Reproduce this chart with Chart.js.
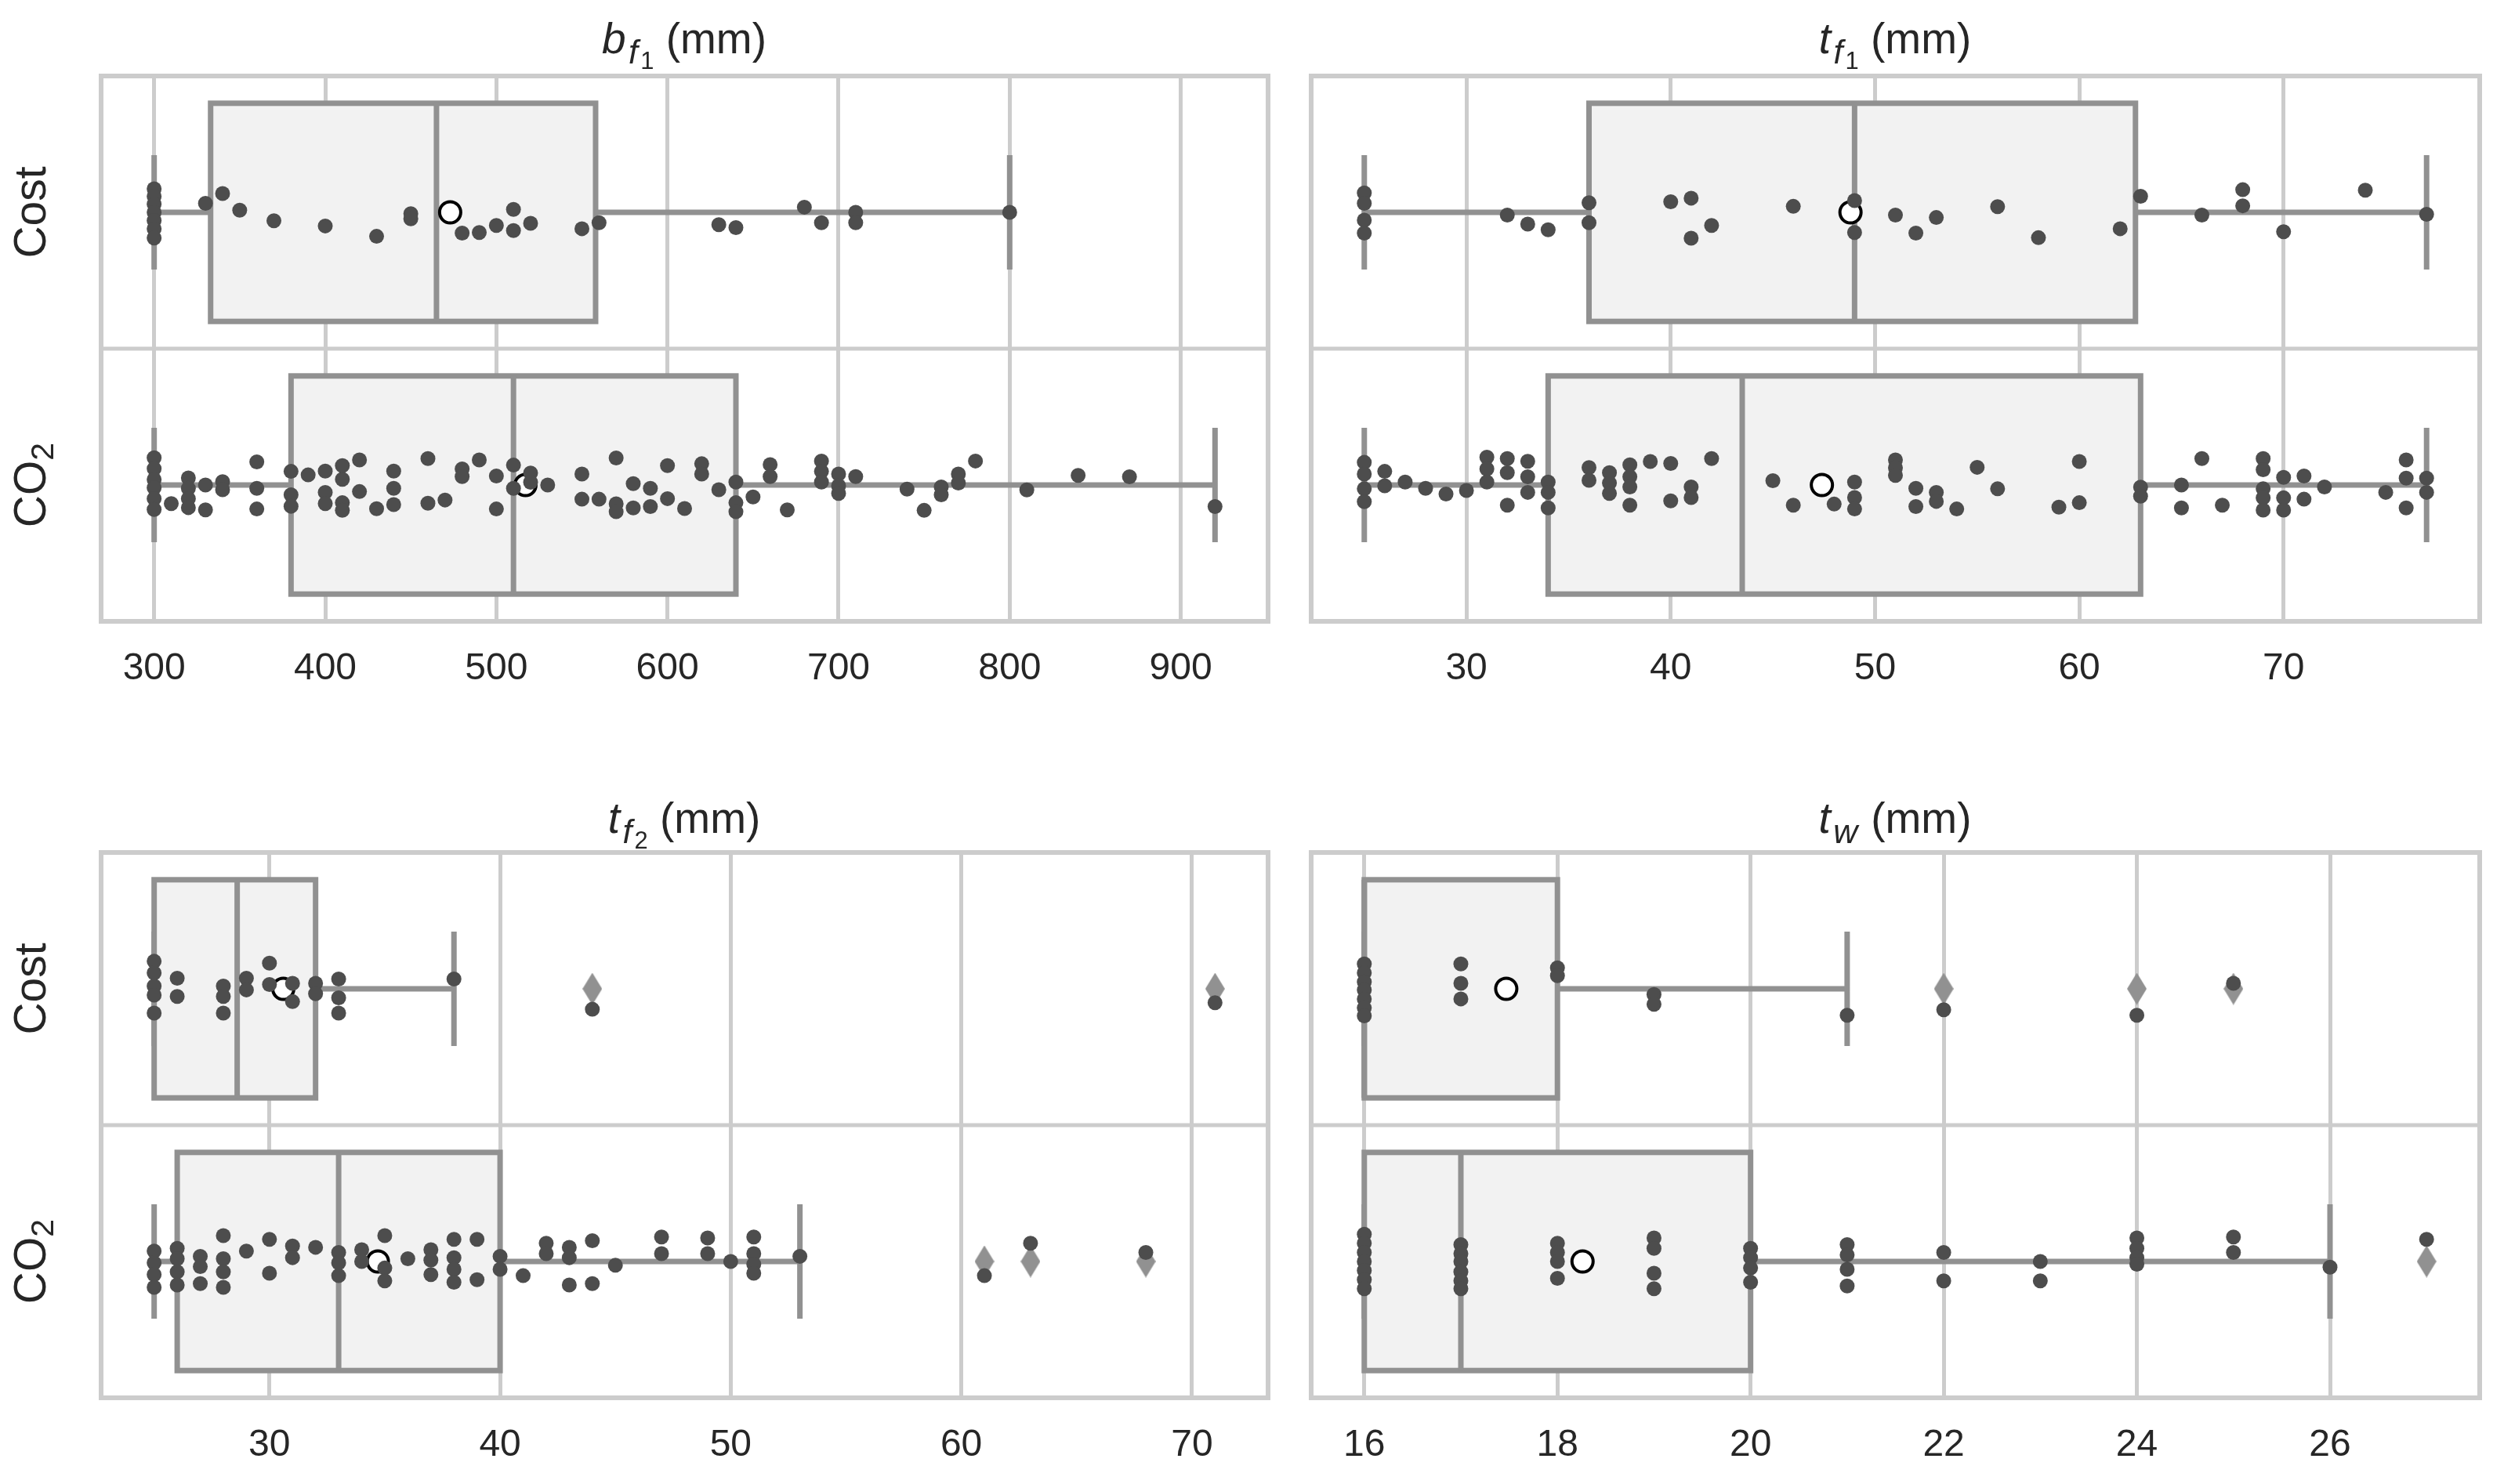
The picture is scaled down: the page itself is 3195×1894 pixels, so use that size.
<!DOCTYPE html>
<html>
<head>
<meta charset="utf-8">
<script src="https://cdn.jsdelivr.net/npm/chart.js@4.4.0/dist/chart.umd.min.js"></script>
<style>
  html, body { margin: 0; padding: 0; background: #ffffff; }
  body { width: 3195px; height: 1894px; position: relative; overflow: hidden;
         font-family: "Liberation Sans", Arial, sans-serif; color: #262626; }
  .panel { position: absolute; }
  .title { position: absolute; width: 600px; height: 60px; line-height: 60px; font-size: 55px;
           text-align: center; white-space: nowrap; }
  .title i { padding-right: 0.04em; }
  .title sub { font-size: 0.78em; vertical-align: -0.3em; line-height: 0; margin-left: 0.03em; }
  .title sub sub { font-size: 0.72em; vertical-align: -0.22em; margin-left: 0.05em; }
  .ylab { position: absolute; width: 240px; height: 60px; line-height: 60px; font-size: 57px;
          text-align: center; white-space: nowrap; transform: rotate(-90deg); }
  .ylab sub { font-size: 0.72em; vertical-align: -0.25em; line-height: 0; }
</style>
</head>
<body>

<div class="panel" id="p0"><canvas id="c0"></canvas></div>
<div class="panel" id="p1"><canvas id="c1"></canvas></div>
<div class="panel" id="p2"><canvas id="c2"></canvas></div>
<div class="panel" id="p3"><canvas id="c3"></canvas></div>

<div class="title" style="left:573px; top:19px;"><i>b</i><sub><i>f</i><sub>1</sub></sub> (mm)</div>
<div class="title" style="left:2118px; top:19px;"><i>t</i><sub><i>f</i><sub>1</sub></sub> (mm)</div>
<div class="title" style="left:573px; top:1014px;"><i>t</i><sub><i>f</i><sub>2</sub></sub> (mm)</div>
<div class="title" style="left:2118px; top:1014px;"><i>t</i><sub><i>w</i></sub> (mm)</div>

<div class="ylab" style="left:-82px; top:241px;">Cost</div>
<div class="ylab" style="left:-82px; top:589px;">CO<sub>2</sub></div>
<div class="ylab" style="left:-82px; top:1232px;">Cost</div>
<div class="ylab" style="left:-82px; top:1580px;">CO<sub>2</sub></div>

<script>
// Categories (row 0 on top)
var categories = ['Cost', 'CO2'];

// ---- b_f1 (mm) ----
var bf1Ticks = [300, 400, 500, 600, 700, 800, 900];
var bf1Limits = [269, 951];
// [whisker low, Q1, median, Q3, whisker high] per category
var bf1Stats = [[300, 333, 465, 558, 800], [300, 380, 510, 640, 920]];
var bf1Means = [473, 517];
var bf1Outliers = [[], []];
var bf1CostValues = [300, 300, 300, 300, 300, 300, 300,
  330, 340, 350, 370, 400, 430, 450, 450, 480, 490, 500, 510, 510, 520, 550, 560,
  630, 640, 680, 690, 710, 710, 800];
var bf1CostJitter = [-0.086, -0.058, -0.03, 0.0, 0.03, 0.06, 0.094,
  -0.033, -0.069, -0.008, 0.031, 0.05, 0.088, 0.005, 0.024, 0.076, 0.074, 0.048, -0.011, 0.067, 0.04, 0.06, 0.038,
  0.045, 0.056, -0.019, 0.038, 0.0, 0.038, 0.0];
var bf1Co2Values = [300, 300, 300, 300, 300, 300,
  310, 320, 320, 320, 320, 330, 330, 340, 340,
  360, 360, 360, 380, 380, 380, 390, 400, 400, 400,
  410, 410, 410, 410, 420, 420, 430, 440, 440, 440,
  460, 460, 470, 480, 480, 490, 500, 500, 510, 510,
  520, 520, 530, 550, 550, 560, 570, 570, 570,
  580, 580, 590, 590, 600, 600, 610, 620, 620, 630,
  640, 640, 640, 650, 660, 660, 670, 690, 690, 690,
  700, 700, 700, 710, 740, 750, 760, 760, 770, 770,
  780, 810, 840, 870, 920];
var bf1Co2Jitter = [-0.10, -0.06, -0.02, 0.01, 0.05, 0.09,
  0.068, -0.026, 0.012, 0.05, 0.083, 0.0, 0.091, -0.012, 0.017,
  -0.085, 0.012, 0.088, -0.05, 0.036, 0.078, -0.037, -0.051, 0.027, 0.068,
  -0.071, -0.021, 0.065, 0.093, -0.092, 0.024, 0.087, -0.051, 0.012, 0.072,
  -0.097, 0.067, 0.055, -0.059, -0.031, -0.092, -0.033, 0.088, -0.073, 0.012,
  -0.044, -0.01, 0.0, -0.04, 0.052, 0.052, -0.099, 0.069, 0.098,
  -0.005, 0.084, 0.012, 0.079, -0.071, 0.05, 0.086, -0.078, -0.04, 0.017,
  -0.011, 0.065, 0.098, 0.044, -0.075, -0.031, 0.091, -0.088, -0.05, -0.011,
  -0.04, 0.003, 0.031, -0.031, 0.015, 0.093, 0.007, 0.036, -0.04, -0.007,
  -0.088, 0.018, -0.035, -0.03, 0.079];

// ---- t_f1 (mm) ----
var tf1Ticks = [30, 40, 50, 60, 70];
var tf1Limits = [22.4, 79.6];
var tf1Stats = [[25, 36, 49, 62.75, 77], [25, 34, 43.5, 63, 77]];
var tf1Means = [48.8, 47.4];
var tf1Outliers = [[], []];
var tf1CostValues = [25, 25, 25, 25,
  32, 33, 34, 36, 36, 40, 41, 41, 42, 46, 49, 49,
  51, 52, 53, 56, 58, 62, 63, 66, 68, 68, 70, 74, 77];
var tf1CostJitter = [-0.071, -0.033, 0.029, 0.076,
  0.01, 0.043, 0.064, -0.035, 0.038, -0.039, -0.052, 0.095, 0.048, -0.022, -0.043, 0.074,
  0.01, 0.076, 0.019, -0.021, 0.093, 0.06, -0.059, 0.01, -0.083, -0.024, 0.071, -0.081, 0.007];
var tf1Co2Values = [25, 25, 25, 25, 26, 26, 27, 28, 29, 30,
  31, 31, 31, 32, 32, 32, 33, 33, 33, 34, 34, 34,
  36, 36, 37, 37, 37, 38, 38, 38, 38, 39, 40, 40, 41, 41, 42,
  45, 46, 48, 49, 49, 49, 51, 51, 51, 52, 52, 53, 53, 54, 55, 56,
  59, 60, 60, 63, 63, 65, 65, 66, 67,
  69, 69, 69, 69, 69, 70, 70, 70, 71, 71, 72, 75, 76, 76, 76, 77, 77];
var tf1Co2Jitter = [-0.083, -0.04, 0.014, 0.061, -0.05, 0.003, -0.011, 0.012, 0.033, 0.02,
  -0.102, -0.059, -0.011, -0.097, -0.045, 0.074, -0.087, -0.03, 0.027, -0.011, 0.027, 0.084,
  -0.064, -0.017, -0.045, -0.007, 0.031, -0.074, -0.03, 0.007, 0.074, -0.086, -0.079, 0.058, 0.007, 0.046, -0.097,
  -0.016, 0.074, 0.07, -0.011, 0.046, 0.088, -0.092, -0.063, -0.035, 0.012, 0.079, 0.027, 0.06, 0.088, -0.065, 0.014,
  0.081, -0.086, 0.065, 0.008, 0.041, 0.0, 0.084, -0.097, 0.074,
  -0.097, -0.056, 0.014, 0.047, 0.092, -0.028, 0.047, 0.092, -0.033, 0.052, 0.007, 0.027, -0.092, -0.025, 0.084, -0.025, 0.027];

// ---- t_f2 (mm) ----
var tf2Ticks = [30, 40, 50, 60, 70];
var tf2Limits = [22.7, 73.3];
var tf2Stats = [[25, 25, 28.6, 32, 38], [25, 26, 33, 40, 53]];
var tf2Means = [30.6, 34.7];
var tf2Outliers = [[44, 71], [61, 63, 68]];
var tf2CostValues = [25, 25, 25, 25, 25, 26, 26, 28, 28, 28, 29, 29,
  30, 30, 31, 31, 32, 32, 33, 33, 33, 38, 44, 71];
var tf2CostJitter = [-0.101, -0.058, -0.01, 0.023, 0.089, -0.039, 0.028, -0.01, 0.028, 0.089, -0.039, 0.004,
  -0.094, -0.016, -0.02, 0.047, -0.02, 0.018, -0.036, 0.033, 0.089, -0.036, 0.075, 0.051];
var tf2Co2Values = [25, 25, 25, 25, 26, 26, 26, 26, 27, 27, 27,
  28, 28, 28, 28, 29, 30, 30, 31, 31, 32, 33, 33, 33,
  34, 34, 35, 35, 35, 36, 37, 37, 37, 38, 38, 38, 38,
  39, 39, 40, 40, 41, 42, 42, 43, 43, 43, 44, 44, 45,
  47, 47, 49, 49, 50, 51, 51, 51, 51, 53, 61, 63, 68];
var tf2Co2Jitter = [-0.038, 0.005, 0.048, 0.095, -0.048, -0.01, 0.038, 0.086, -0.019, 0.019, 0.081,
  -0.095, -0.01, 0.038, 0.095, -0.038, -0.081, 0.043, -0.057, -0.014, -0.052, -0.033, 0.005, 0.052,
  -0.043, 0.0, -0.095, 0.024, 0.071, -0.01, -0.043, -0.005, 0.048, -0.081, -0.014, 0.029, 0.076,
  -0.081, 0.067, -0.019, 0.029, 0.052, -0.067, -0.029, -0.052, -0.014, 0.086, -0.076, 0.081, 0.014,
  -0.09, -0.029, -0.086, -0.029, 0.0, -0.09, -0.029, 0.01, 0.043, -0.019, 0.052, -0.067, -0.033];

// ---- t_w (mm) ----
var twTicks = [16, 18, 20, 22, 24, 26];
var twLimits = [15.45, 27.55];
var twStats = [[16, 16, 16, 18, 21], [16, 16, 17, 20, 26]];
var twMeans = [17.47, 18.26];
var twOutliers = [[22, 24, 25], [27]];
var twCostValues = [16, 16, 16, 16, 16, 16, 16, 17, 17, 17, 18, 18, 19, 19, 21, 22, 24, 25];
var twCostJitter = [-0.091, -0.058, -0.025, 0.004, 0.037, 0.07, 0.099, -0.091, -0.02, 0.037,
  -0.077, -0.048, 0.021, 0.057, 0.097, 0.077, 0.097, -0.02];
var twCo2Values = [16, 16, 16, 16, 16, 16, 16, 17, 17, 17, 17, 17, 17,
  18, 18, 18, 18, 19, 19, 19, 19, 20, 20, 20, 20, 21, 21, 21, 21,
  22, 22, 23, 23, 24, 24, 24, 24, 25, 25, 26, 27];
var twCo2Jitter = [-0.1, -0.067, -0.033, 0.0, 0.033, 0.067, 0.1, -0.062, -0.029, 0.0, 0.038, 0.071, 0.1,
  -0.067, -0.033, 0.0, 0.062, -0.086, -0.048, 0.043, 0.1, -0.048, -0.014, 0.024, 0.076, -0.062, -0.024, 0.029, 0.09,
  -0.033, 0.071, 0.0, 0.071, -0.086, -0.048, -0.014, 0.01, -0.09, -0.033, 0.021, -0.081];

// Colours
var pointColor = '#4d4d4d';
var boxFill = '#f2f2f2';
var boxEdge = '#919191';
var gridColor = '#cccccc';
var textColor = '#262626';
var fontFamily = "'Liberation Sans', Arial, sans-serif";

// Thin diamond marker for outliers
var diamond = document.createElement('canvas');
diamond.width = 25;
diamond.height = 41;
var dctx = diamond.getContext('2d');
dctx.fillStyle = boxEdge;
dctx.beginPath();
dctx.moveTo(12.5, 0);
dctx.lineTo(25, 20.5);
dctx.lineTo(12.5, 41);
dctx.lineTo(0, 20.5);
dctx.closePath();
dctx.fill();

// Draws boxes, whiskers, caps and the frame from the chart's scales
var boxPlugin = {
  id: 'boxes',
  beforeDatasetsDraw: function (chart, args, opts)
  {
    var ctx = chart.ctx;
    var x = chart.scales.x;
    var y = chart.scales.y;
    var area = chart.chartArea;

    ctx.save();
    ctx.strokeStyle = boxEdge;
    ctx.lineWidth = 7;

    opts.stats.forEach(function (s, row) {

      var yc = y.getPixelForValue(row);
      var yTop = y.getPixelForValue(row - 0.4);
      var yBot = y.getPixelForValue(row + 0.4);
      var capTop = y.getPixelForValue(row - 0.2);
      var capBot = y.getPixelForValue(row + 0.2);
      var lo = x.getPixelForValue(s[0]);
      var q1 = x.getPixelForValue(s[1]);
      var med = x.getPixelForValue(s[2]);
      var q3 = x.getPixelForValue(s[3]);
      var hi = x.getPixelForValue(s[4]);

      // whiskers and caps
      ctx.lineCap = 'square';
      ctx.beginPath();
      ctx.moveTo(lo, yc);
      ctx.lineTo(q1, yc);
      ctx.moveTo(q3, yc);
      ctx.lineTo(hi, yc);
      ctx.moveTo(lo, capTop);
      ctx.lineTo(lo, capBot);
      ctx.moveTo(hi, capTop);
      ctx.lineTo(hi, capBot);
      ctx.stroke();

      // box
      ctx.lineCap = 'butt';
      ctx.lineJoin = 'miter';
      ctx.fillStyle = boxFill;
      ctx.fillRect(q1, yTop, q3 - q1, yBot - yTop);
      ctx.strokeRect(q1, yTop, q3 - q1, yBot - yTop);

      // median
      ctx.beginPath();
      ctx.moveTo(med, yTop);
      ctx.lineTo(med, yBot);
      ctx.stroke();
    });

    // frame and row divider
    ctx.strokeStyle = gridColor;
    ctx.lineWidth = 6;
    ctx.strokeRect(area.left, area.top, area.right - area.left, area.bottom - area.top);

    ctx.lineWidth = 5;
    ctx.beginPath();
    ctx.moveTo(area.left, y.getPixelForValue(0.5));
    ctx.lineTo(area.right, y.getPixelForValue(0.5));
    ctx.stroke();

    ctx.restore();
  }
};

function stripPoints(values, jitter, row)
{
  return values.map(function (v, k) {
    return { x: v, y: row + jitter[k] };
  });
}

function rowPoints(list)
{
  var out = [];

  list.forEach(function (vals, row) {
    vals.forEach(function (v) {
      out.push({ x: v, y: row });
    });
  });

  return out;
}

var panels = [
  { box: { left: 0, top: 0, width: 1640, height: 900, padLeft: 129, padTop: 97, padRight: 22 },
    ticks: bf1Ticks, limits: bf1Limits, stats: bf1Stats, means: bf1Means, outliers: bf1Outliers,
    cost: [bf1CostValues, bf1CostJitter], co2: [bf1Co2Values, bf1Co2Jitter] },
  { box: { left: 1640, top: 0, width: 1555, height: 900, padLeft: 33, padTop: 97, padRight: 31 },
    ticks: tf1Ticks, limits: tf1Limits, stats: tf1Stats, means: tf1Means, outliers: tf1Outliers,
    cost: [tf1CostValues, tf1CostJitter], co2: [tf1Co2Values, tf1Co2Jitter] },
  { box: { left: 0, top: 990, width: 1640, height: 901, padLeft: 129, padTop: 98, padRight: 22 },
    ticks: tf2Ticks, limits: tf2Limits, stats: tf2Stats, means: tf2Means, outliers: tf2Outliers,
    cost: [tf2CostValues, tf2CostJitter], co2: [tf2Co2Values, tf2Co2Jitter] },
  { box: { left: 1640, top: 990, width: 1555, height: 901, padLeft: 33, padTop: 98, padRight: 31 },
    ticks: twTicks, limits: twLimits, stats: twStats, means: twMeans, outliers: twOutliers,
    cost: [twCostValues, twCostJitter], co2: [twCo2Values, twCo2Jitter] }
];

panels.forEach(function (p, i) {

  var holder = document.getElementById('p' + i);

  holder.style.left = p.box.left + 'px';
  holder.style.top = p.box.top + 'px';
  holder.style.width = p.box.width + 'px';
  holder.style.height = p.box.height + 'px';

  var strip = stripPoints(p.cost[0], p.cost[1], 0).concat(stripPoints(p.co2[0], p.co2[1], 1));

  new Chart(document.getElementById('c' + i), {

    type: 'scatter',

    data: {
      datasets: [
        {
          label: 'points',
          data: strip,
          pointRadius: 9.5,
          backgroundColor: pointColor,
          borderWidth: 0
        },
        {
          label: 'mean',
          data: p.means.map(function (m, row) { return { x: m, y: row }; }),
          pointRadius: 13.5,
          backgroundColor: '#ffffff',
          borderColor: '#000000',
          borderWidth: 4
        },
        {
          label: 'outliers',
          data: rowPoints(p.outliers),
          pointStyle: diamond,
          pointRadius: 20
        }
      ]
    },

    plugins: [boxPlugin],

    options: {
      responsive: true,
      maintainAspectRatio: false,
      animation: false,
      events: [],
      layout: {
        padding: { left: p.box.padLeft, top: p.box.padTop, right: p.box.padRight, bottom: 0 }
      },
      plugins: {
        legend: { display: false },
        tooltip: { enabled: false },
        boxes: { stats: p.stats }
      },
      scales: {
        x: {
          type: 'linear',
          min: p.limits[0],
          max: p.limits[1],
          afterBuildTicks: function (scale) {
            scale.ticks = p.ticks.map(function (v) { return { value: v }; });
          },
          afterFit: function (scale) {
            scale.height = 107;
          },
          grid: { color: gridColor, lineWidth: 5, drawTicks: false },
          border: { display: false },
          ticks: {
            autoSkip: false,
            maxRotation: 0,
            padding: 32,
            color: textColor,
            font: { family: fontFamily, size: 48 },
            callback: function (v) { return String(v); }
          }
        },
        y: {
          type: 'linear',
          min: -0.5,
          max: 1.5,
          reverse: true,
          display: false
        }
      }
    }
  });
});
</script>
</body>
</html>
